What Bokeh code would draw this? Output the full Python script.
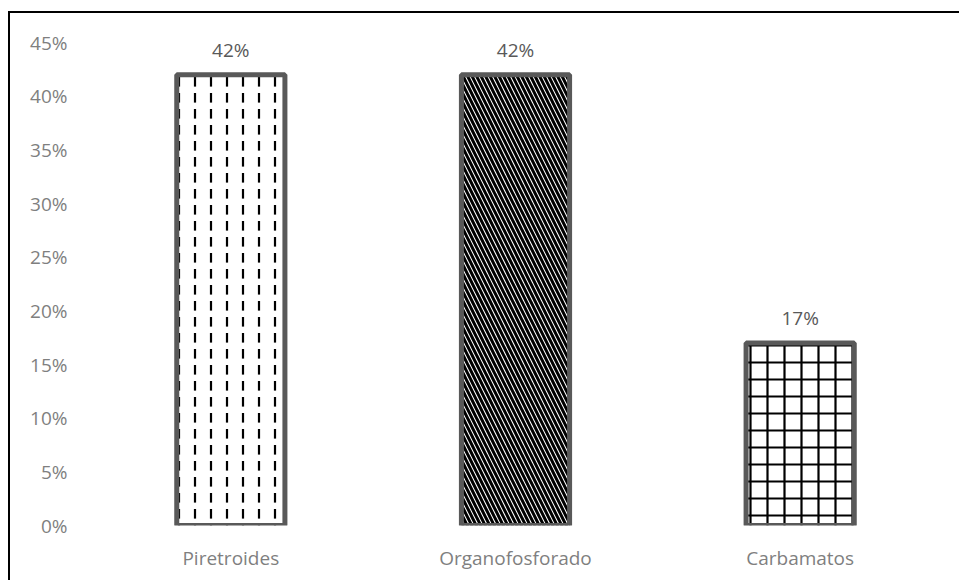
from bokeh.plotting import figure
from bokeh.models import FactorRange, Range1d, NumeralTickFormatter, FixedTicker
from bokeh.core.properties import value
from bokeh.embed import file_html
from bokeh.resources import INLINE

# Share of pesticide groups
categories = ["Piretroides", "Organofosforado", "Carbamatos"]
shares = [0.42, 0.42, 0.17]
share_labels = ["42%", "42%", "17%"]
y_ticks = [0, 0.05, 0.10, 0.15, 0.20, 0.25, 0.30, 0.35, 0.40, 0.45]

# fill pattern per bar: dashed verticals, dense diagonals, square grid
hatch_styles = [
    dict(hatch_pattern="vertical_dash", hatch_scale=16, hatch_weight=2.2),
    dict(hatch_pattern="left_diagonal_line", hatch_scale=9, hatch_weight=3.0),
    dict(hatch_pattern="cross", hatch_scale=17, hatch_weight=2.2),
]

FONT = "Open Sans"

p = figure(
    x_range=FactorRange(*categories, range_padding=0),
    y_range=Range1d(0, 0.45),
    width=951, height=569,
    output_backend="svg", toolbar_location=None,
    min_border_left=78, min_border_right=19,
    min_border_top=29, min_border_bottom=57,
    background_fill_color="white", border_fill_color="white",
    margin=(11, 0, 0, 8),
)
p.styles = {"border-top": "2px solid black", "border-left": "2px solid black",
            "box-sizing": "border-box"}
p.outline_line_color = None
p.grid.visible = False

for cat, v, hs in zip(categories, shares, hatch_styles):
    p.vbar(x=[cat], top=[v], bottom=0, width=0.38,
           fill_color="white", hatch_color="black",
           line_color="#595959", line_width=5, **hs)

p.text(x=categories, y=shares, text=share_labels,
       text_align="center", text_baseline="bottom", y_offset=-12,
       text_font=value(FONT), text_font_size="19px", text_color="#595959")

p.yaxis.ticker = FixedTicker(ticks=y_ticks)
p.yaxis.formatter = NumeralTickFormatter(format="0%")
for ax in (p.xaxis[0], p.yaxis[0]):
    ax.axis_line_color = None
    ax.major_tick_line_color = None
    ax.minor_tick_line_color = None
    ax.major_label_text_font = FONT
    ax.major_label_text_font_size = "19px"
    ax.major_label_text_color = "#7f7f7f"
p.yaxis.major_label_standoff = 15
p.xaxis.major_label_standoff = 13

open("out.html", "w").write(file_html(p, INLINE))
